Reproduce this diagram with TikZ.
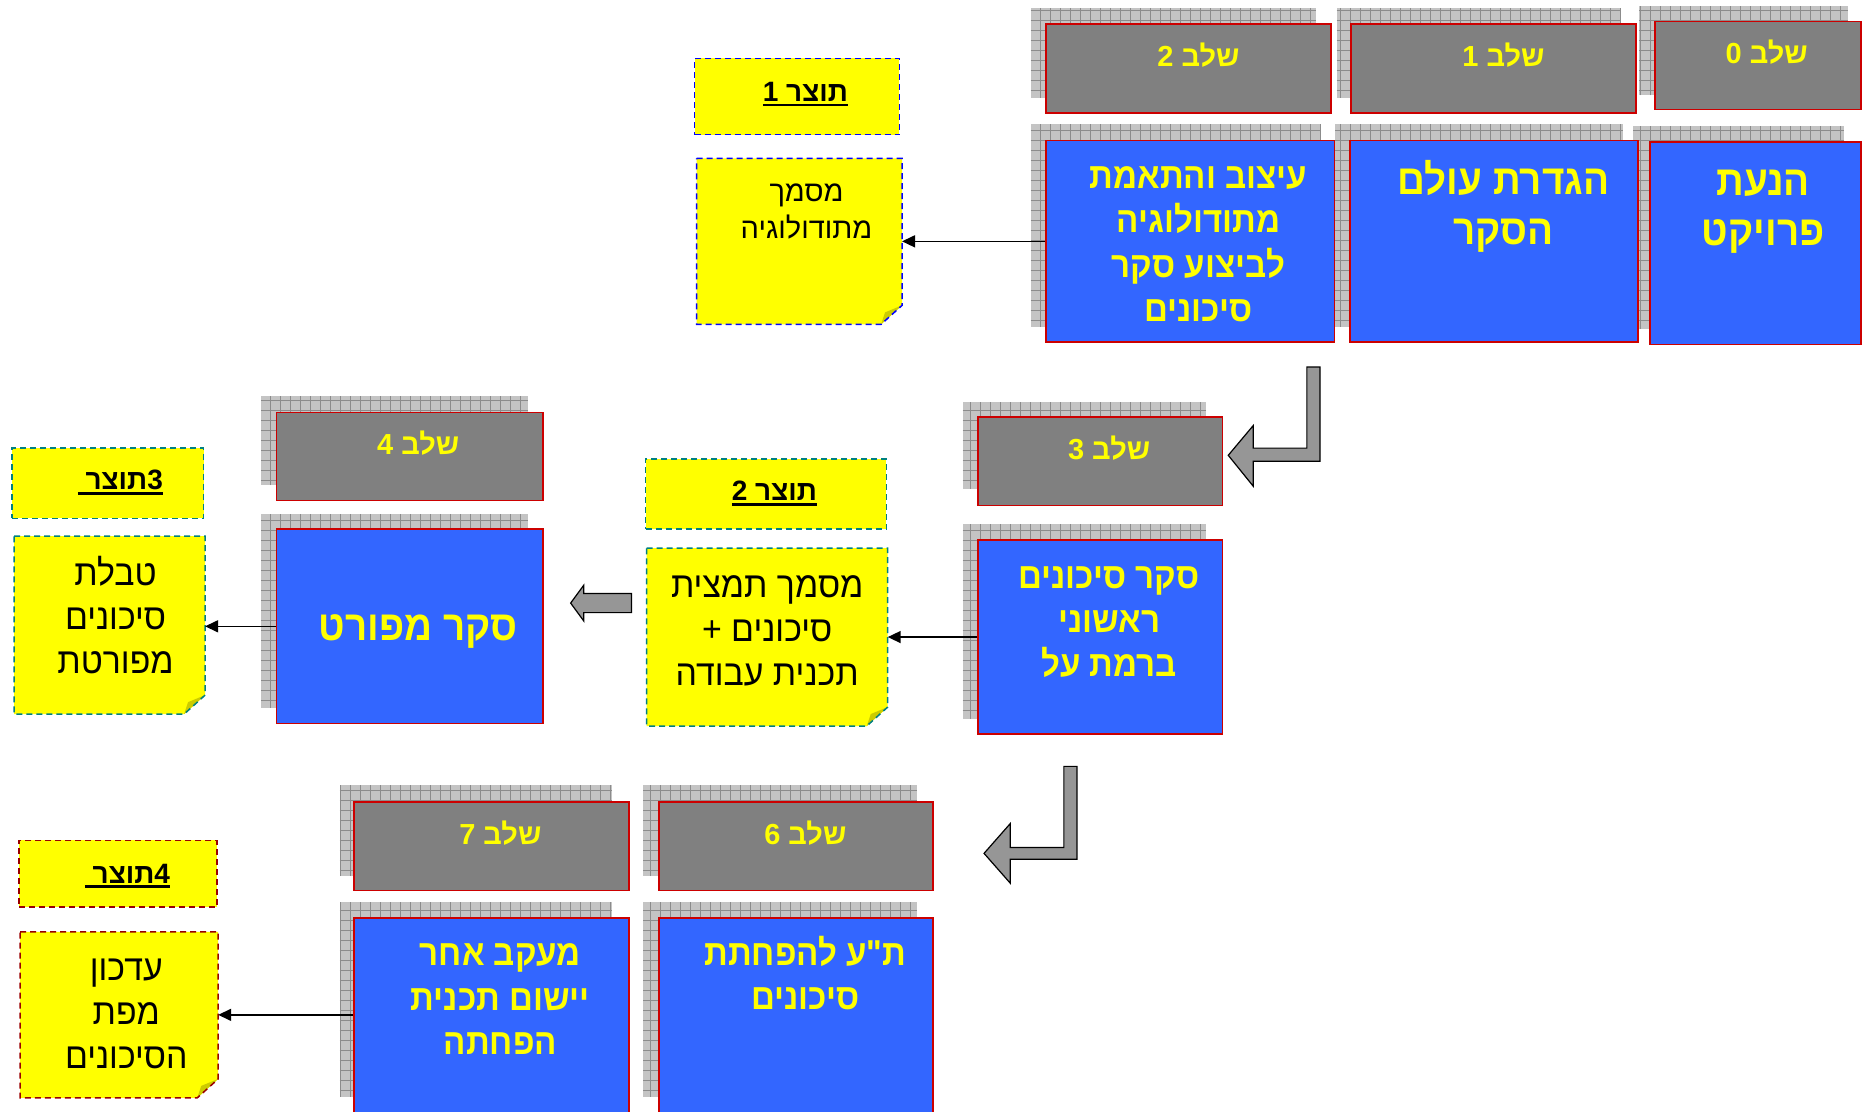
\documentclass[tikz,border=0pt]{standalone}
\usepackage{fontspec}
\usepackage{graphicx}
\newfontfamily\heb[Script=Hebrew]{Liberation Sans}
\TeXXeTstate=1
\usetikzlibrary{fit,arrows.meta}
\definecolor{boxblue}{RGB}{51,102,255}
\definecolor{stepgray}{RGB}{128,128,128}
\definecolor{boxred}{RGB}{204,0,0}
\definecolor{yel}{RGB}{255,255,0}
\definecolor{noteblue}{RGB}{0,0,255}
\definecolor{noteteal}{RGB}{0,128,128}
\definecolor{notered}{RGB}{153,0,0}
\definecolor{foldc}{RGB}{204,204,0}
\definecolor{arrowgray}{RGB}{150,150,150}
\definecolor{shadefill}{RGB}{196,196,196}
\definecolor{shadeline}{RGB}{140,140,140}
\newcommand\R[1]{\beginR#1\endR}
\newcommand\Rb[1]{\scalebox{0.92}[1]{\beginR#1\endR}}
\newcommand\Rn[1]{\scalebox{0.94}[1]{\beginR#1\endR}}
\newcommand\fs[2]{\fontsize{#1}{#2}\selectfont}
\newcommand\myul[1]{\setbox0\hbox{#1}\rlap{\rule[-5pt]{\wd0}{2.7pt}}\box0}
\newcommand\shad[4]{%
  \fill[shadefill] (#1,#2) rectangle (#3,#4);
  \draw[shadeline, line width=0.7pt, step=10pt] (#1,#4) grid (#3,#2);}
\newcommand\notepath[2]{%
  \fill[yel] (#1.north west) -- (#1.north east) -- ([yshift=19pt]#1.south east) -- ([xshift=-21pt]#1.south east) -- (#1.south west) -- cycle;
  \fill[foldc] ([yshift=19pt]#1.south east) -- ([xshift=-21pt]#1.south east) -- ([xshift=-17pt,yshift=12pt]#1.south east) -- cycle;
  \draw[#2, line width=1.5pt, dash pattern=on 6pt off 4pt] (#1.north west) -- (#1.north east) -- ([yshift=19pt]#1.south east) -- ([xshift=-21pt]#1.south east) -- (#1.south west) -- cycle;}
\begin{document}
\begin{tikzpicture}[x=1.191327pt, y=-1.191854pt, font=\heb,
  graybox/.style={draw=boxred, line width=1.6pt, fill=stepgray, inner sep=0pt},
  bluebox/.style={draw=boxred, line width=1.6pt, fill=boxblue, inner sep=0pt},
  hdrbox/.style={fill=yel, line width=1.5pt, dash pattern=on 6pt off 4pt, inner sep=0pt},
  notebox/.style={inner sep=0pt},
  steplbl/.style={text=yel, font=\heb\bfseries\fs{29}{32}, inner sep=0pt},
  bluetxt/.style={text=yel, align=center, inner sep=0pt},
  notetxt/.style={text=black, align=center, inner sep=0pt},
  hdrtxt/.style={text=black, font=\heb\bfseries\fs{28}{32}, inner sep=0pt, anchor=base},
  conn/.style={line width=1.6pt, -{Triangle[length=13pt,width=12pt]}},
  blockarrow/.style={fill=arrowgray, draw=black, line width=1.2pt, line join=miter},
]
\useasboundingbox (0,0) rectangle (1568,933);

% ---------- shadows ----------
\shad{1376}{5}{1551}{80}
\shad{1122}{7}{1360}{82}
\shad{865}{7}{1105}{82}
\shad{1371}{106}{1548}{276}
\shad{1121}{104}{1362}{274}
\shad{865}{104}{1108}{274}
\shad{808}{337}{1012}{410}
\shad{808}{440}{1012}{603}
\shad{219}{332}{443}{407}
\shad{219}{431}{443}{594}
\shad{540}{659}{770}{735}
\shad{540}{757}{770}{920}
\shad{285}{659}{514}{735}
\shad{285}{757}{514}{920}

% ---------- step boxes ----------
\node[graybox, fit={(1389,18) (1562,92)}] (g0) {};
\node[graybox, fit={(1134,20) (1373,95)}] (g1) {};
\node[graybox, fit={(878,20) (1117,95)}] (g2) {};
\node[bluebox, fit={(1385,119) (1562,289)}] (b0) {};
\node[bluebox, fit={(1133,118) (1375,287)}] (b1) {};
\node[bluebox, fit={(878,118) (1120,287)}] (b2) {};
\node[graybox, fit={(821,350) (1026,424)}] (g3) {};
\node[bluebox, fit={(821,453) (1026,616)}] (b3) {};
\node[graybox, fit={(232,346) (456,420)}] (g4) {};
\node[bluebox, fit={(232,444) (456,607)}] (b4) {};
\node[graybox, fit={(553,673) (783,747)}] (g6) {};
\node[bluebox, fit={(553,770) (783,945)}] (b6) {};
\node[graybox, fit={(297,673) (528,747)}] (g7) {};
\node[bluebox, fit={(297,770) (528,945)}] (b7) {};

% ---------- step labels ----------
\node[steplbl] (ts0) at (1483,44) {\R{שלב 0}};
\node[steplbl] (ts1) at (1262,46) {\R{שלב 1}};
\node[steplbl] (ts2) at (1006,46) {\R{שלב 2}};
\node[steplbl] (ts3) at (931,376) {\R{שלב 3}};
\node[steplbl] (ts4) at (351,372) {\R{שלב 4}};
\node[steplbl] (ts6) at (676,699) {\R{שלב 6}};
\node[steplbl] (ts7) at (420,699) {\R{שלב 7}};

% ---------- blue texts ----------
\node[bluetxt, font=\heb\bfseries\fs{42}{50}] (tb0) at (1480,177.5) {\Rb{הנעת}\\\Rb{פרויקט}};
\node[bluetxt, font=\heb\bfseries\fs{42}{50}] (tb1) at (1262,173.5) {\Rb{הגדרת עולם}\\\Rb{הסקר}};
\node[bluetxt, font=\heb\bfseries\fs{36}{44.5}] (tb2) at (1006,205) {\Rb{עיצוב והתאמת}\\\Rb{מתודולוגיה}\\\Rb{לביצוע סקר}\\\Rb{סיכונים}};
\node[bluetxt, font=\heb\bfseries\fs{36}{44}] (tb3) at (931,522) {\Rb{סקר סיכונים}\\\Rb{ראשוני}\\\Rb{ברמת על}};
\node[bluetxt, font=\heb\bfseries\fs{42}{50}] (tb4) at (351,530) {\Rb{סקר מפורט}};
\node[bluetxt, font=\heb\bfseries\fs{36}{44}] (tb6) at (676,816) {\Rb{ת"ע להפחתת}\\\Rb{סיכונים}};
\node[bluetxt, font=\heb\bfseries\fs{36}{44.5}] (tb7) at (420,838.5) {\Rb{מעקב אחר}\\\Rb{יישום תכנית}\\\Rb{הפחתה}};

% ---------- product headers ----------
\node[hdrbox, draw=noteblue, fit={(583,49) (755,113)}] (h1) {};
\node[hdrbox, draw=noteteal, fit={(542,385) (744,444)}] (h2) {};
\node[hdrbox, draw=noteteal, fit={(10,376) (171,435)}] (h3) {};
\node[hdrbox, draw=notered, fit={(16,705) (182,761)}] (h4) {};
\node[hdrtxt] (th1) at (676,85) {\myul{\R{תוצר 1}}};
\node[hdrtxt] (th2) at (650,420) {\myul{\R{תוצר 2}}};
\node[hdrtxt] (th3) at (101,411) {\myul{\R{3\kern0pt תוצר\ }}};
\node[hdrtxt] (th4) at (107,741) {\myul{\R{4\kern0pt תוצר\ }}};

% ---------- product notes ----------
\node[notebox, fit={(585,133) (757,272)}] (n1) {};
\node[notebox, fit={(543,460) (745,609)}] (n2) {};
\node[notebox, fit={(12,450) (172,599)}] (n3) {};
\node[notebox, fit={(17,782) (183,921)}] (n4) {};
\notepath{n1}{noteblue}
\notepath{n2}{noteteal}
\notepath{n3}{noteteal}
\notepath{n4}{notered}
\node[notetxt, font=\heb\fs{29}{37}] (tn1) at (677,177.5) {\R{מסמך}\\\R{מתודולוגיה}};
\node[notetxt, font=\heb\fs{36}{44}] (tn2) at (644,529) {\Rn{מסמך תמצית}\\\Rn{סיכונים +}\\\Rn{תכנית עבודה}};
\node[notetxt, font=\heb\fs{36}{44}] (tn3) at (97,516) {\Rn{טבלת}\\\Rn{סיכונים}\\\Rn{מפורטת}};
\node[notetxt, font=\heb\fs{36}{44}] (tn4) at (106,850.5) {\Rn{עדכון}\\\Rn{מפת}\\\Rn{הסיכונים}};

% ---------- connectors ----------
\draw[conn] (b2.west) -- (n1.east);
\draw[conn] (b3.west) -- (n2.east);
\draw[conn] (b4.west) -- (b4.west -| n3.east);
\draw[conn] (n4.east -| b7.west) -- (n4.east);

% ---------- block arrows ----------
\draw[blockarrow] (1097,308) -- (1108,308) -- (1108,387) -- (1052,387) -- (1052,408) -- (1031,382) -- (1052,357) -- (1052,376) -- (1097,376) -- cycle;
\draw[blockarrow] (893,643) -- (904,643) -- (904,721) -- (848,721) -- (848,741) -- (826,716) -- (848,691) -- (848,711) -- (893,711) -- cycle;
\draw[blockarrow] (530,498) -- (490,498) -- (490,491) -- (479,506) -- (490,521) -- (490,514) -- (530,514) -- cycle;
\end{tikzpicture}
\end{document}
